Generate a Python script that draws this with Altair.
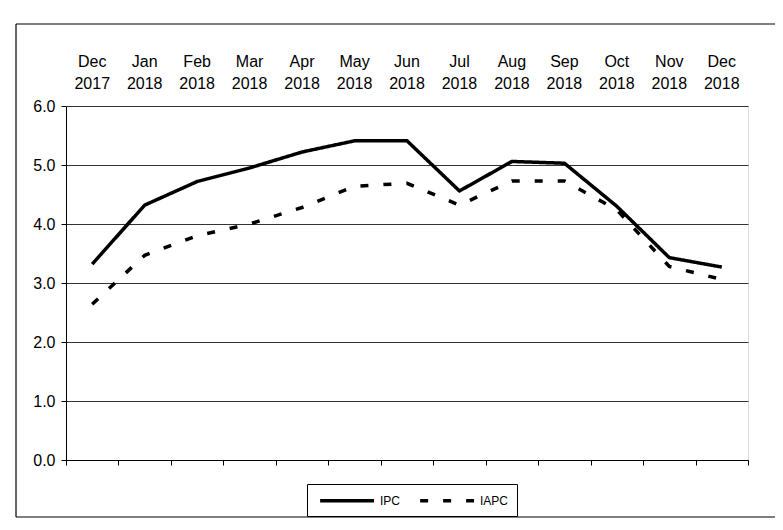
import altair as alt
import pandas as pd

months = ["Dec 2017", "Jan 2018", "Feb 2018", "Mar 2018", "Apr 2018", "May 2018",
          "Jun 2018", "Jul 2018", "Aug 2018", "Sep 2018", "Oct 2018", "Nov 2018", "Dec 2018"]
ipc = [3.32, 4.32, 4.72, 4.95, 5.22, 5.41, 5.41, 4.56, 5.06, 5.03, 4.30, 3.43, 3.27]
iapc = [2.64, 3.47, 3.80, 4.00, 4.28, 4.64, 4.69, 4.32, 4.73, 4.73, 4.24, 3.28, 3.06]
series_names = ["IPC", "IAPC"]
y_ticks = [0, 1, 2, 3, 4, 5, 6]

rows = []
for m, a, b in zip(months, ipc, iapc):
    rows.append({"month": m, "series": "IPC", "value": a})
    rows.append({"month": m, "series": "IAPC", "value": b})
df = pd.DataFrame(rows)

FONT = "Liberation Sans"
W, H = 682, 354

xscale = alt.Scale(type="band", domain=months, paddingInner=0, paddingOuter=0)
yscale = alt.Scale(domain=[0, 6], nice=False)

# outer frame (left, top and bottom edges; right edge runs off the page as in the scan)
frame_top = alt.Chart(alt.Data(values=[{"f": 1}])).mark_rule(
    color="black", strokeWidth=1.2
).encode(x=alt.value(-50), x2=alt.value(720), y=alt.value(-82), y2=alt.value(-82))
frame_bottom = alt.Chart(alt.Data(values=[{"f": 1}])).mark_rule(
    color="black", strokeWidth=1.2
).encode(x=alt.value(-50), x2=alt.value(720), y=alt.value(411), y2=alt.value(411))
frame_left = alt.Chart(alt.Data(values=[{"f": 1}])).mark_rule(
    color="black", strokeWidth=1.2
).encode(x=alt.value(-50), x2=alt.value(-50), y=alt.value(-82), y2=alt.value(411))

lines = alt.Chart(df).mark_line(color="black", strokeWidth=3.5, strokeCap="butt").encode(
    x=alt.X("month:N", sort=months, scale=xscale,
            axis=alt.Axis(orient="bottom", labels=False, title=None, grid=False,
                          tickBand="extent", ticks=True, tickSize=5, tickColor="black",
                          domainColor="black", domainWidth=1)),
    y=alt.Y("value:Q", scale=yscale,
            axis=alt.Axis(values=y_ticks, format=".1f", title=None, grid=True,
                          gridColor="#333333", gridWidth=1, tickSize=5, tickColor="black",
                          domainColor="black", labelFontSize=16, labelFont=FONT,
                          labelColor="black", labelPadding=6)),
    strokeDash=alt.StrokeDash(
        "series:N",
        scale=alt.Scale(domain=series_names, range=[[1, 0], [8, 15]]),
        legend=alt.Legend(orient="none", legendX=241, legendY=378, direction="horizontal",
                          title=None, strokeColor="black", padding=8,
                          symbolType="M-0.5,0L7.5,0", symbolSize=182,
                          symbolStrokeWidth=3.5, symbolStrokeColor="black",
                          symbolFillColor="transparent",
                          labelFontSize=12, labelFont=FONT, labelColor="black",
                          columnPadding=12, labelOffset=48),
    ),
    detail="series:N",
)

top_axis = alt.Chart(df).mark_point(opacity=0).encode(
    x=alt.X("month:N", sort=months, scale=xscale,
            axis=alt.Axis(orient="top", title=None, grid=False, ticks=False, domain=False,
                          labelExpr="split(datum.label, ' ')", labelFontSize=16,
                          labelFont=FONT, labelColor="black", labelLineHeight=22,
                          labelPadding=37, labelAngle=0)),
)

chart = alt.layer(frame_top, frame_bottom, frame_left, lines, top_axis).resolve_axis(
    x="independent"
).properties(
    width=W, height=H,
    autosize=alt.AutoSizeParams(type="none"),
    padding={"left": 58, "top": 98, "right": 27, "bottom": 62},
).configure_view(stroke=None).configure(font=FONT)

chart.save("out.html", embed_options={"renderer": "svg", "actions": False})
